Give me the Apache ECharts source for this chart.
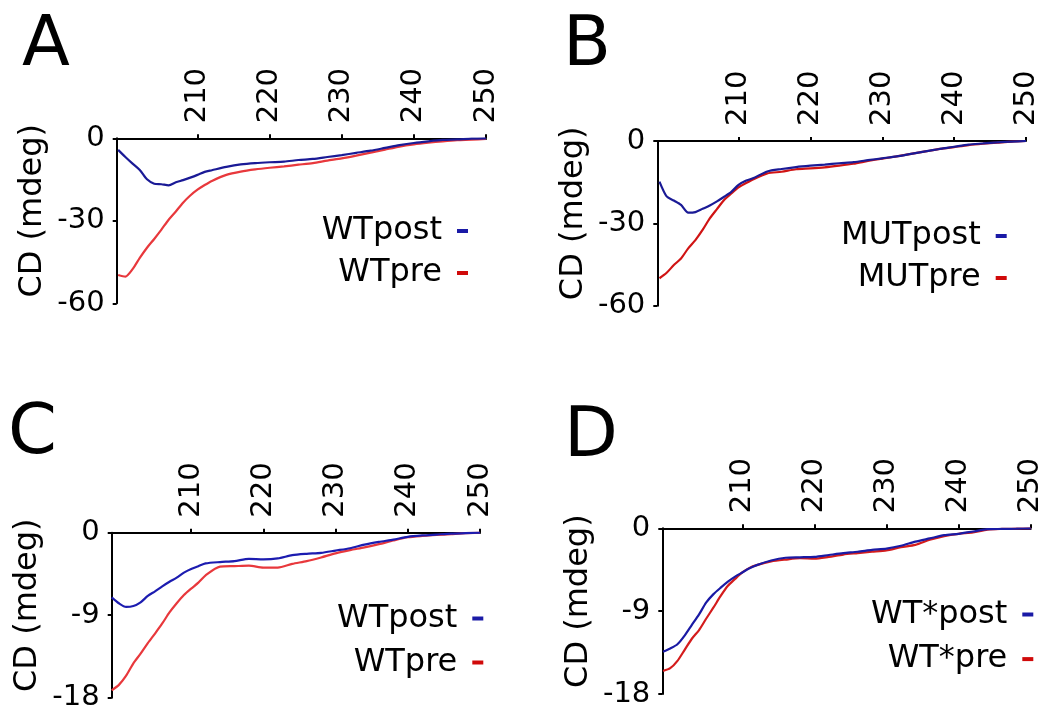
<!DOCTYPE html>
<html><head><meta charset="utf-8">
<script src="https://cdn.jsdelivr.net/npm/echarts@6/dist/echarts.min.js"></script>
<style>html,body{margin:0;padding:0;background:#fff}#c{width:1046px;height:715px}</style>
</head><body><div id="c"></div>
<script>
// Wavelength (nm)
const wavelengths = [199,200,201,202,203,204,205,206,207,208,209,210,211,212,214,216,218,220,222,224,226,228,230,232,234,236,238,240,242,244,246,248,250];
const xTickValues = [210,220,230,240,250];

// Panel A
const wtPostA = [-4.2,-6.8,-9.2,-11.5,-14.9,-16.5,-16.7,-17.1,-16.0,-15.2,-14.3,-13.3,-12.2,-11.6,-10.4,-9.5,-9.0,-8.7,-8.5,-7.9,-7.5,-6.8,-6.1,-5.3,-4.5,-3.5,-2.5,-1.7,-1.1,-0.6,-0.4,-0.1,0];
const wtPreA = [-49.7,-50.3,-47.6,-43.5,-39.8,-36.6,-33.2,-29.6,-26.6,-23.4,-20.8,-18.7,-17.0,-15.5,-13.3,-12.1,-11.3,-10.7,-10.2,-9.6,-9.0,-8.1,-7.3,-6.3,-5.2,-4.1,-3.0,-2.2,-1.6,-1.1,-0.7,-0.5,-0.2];
// Panel B
const mutPostB = [-14.8,-20.2,-21.7,-23.3,-26.1,-25.9,-24.7,-23.5,-22.0,-20.3,-18.5,-16.0,-14.5,-13.6,-11.1,-10.2,-9.5,-9.0,-8.6,-8.1,-7.7,-7.0,-6.3,-5.6,-4.7,-3.8,-2.9,-2.1,-1.3,-0.9,-0.5,-0.2,0];
const mutPreB = [-50.0,-48.0,-45.2,-42.8,-39.1,-36.1,-32.4,-28.2,-24.8,-21.5,-19.1,-16.9,-15.4,-14.0,-11.8,-11.2,-10.3,-10.0,-9.6,-9.0,-8.3,-7.3,-6.4,-5.6,-4.7,-3.8,-2.9,-2.2,-1.5,-1.0,-0.6,-0.2,0];
// Panel C
const wtPostC = [-7.05,-7.7,-8.1,-8.0,-7.6,-6.9,-6.4,-5.85,-5.35,-4.9,-4.35,-3.95,-3.65,-3.35,-3.2,-3.1,-2.85,-2.9,-2.8,-2.45,-2.3,-2.2,-1.95,-1.7,-1.3,-1.0,-0.75,-0.45,-0.3,-0.2,-0.1,-0.05,0];
const wtPreC = [-17.2,-16.6,-15.6,-14.25,-13.2,-12.05,-11.0,-9.9,-8.7,-7.7,-6.8,-6.1,-5.45,-4.65,-3.7,-3.65,-3.6,-3.8,-3.8,-3.4,-3.1,-2.7,-2.25,-1.9,-1.6,-1.25,-0.85,-0.5,-0.35,-0.25,-0.15,-0.05,0];
// Panel D
const wtsPostD = [-13.4,-13.05,-12.6,-11.65,-10.5,-9.35,-8.05,-7.15,-6.45,-5.8,-5.25,-4.8,-4.35,-4.0,-3.5,-3.2,-3.15,-3.1,-2.9,-2.7,-2.55,-2.35,-2.2,-1.9,-1.45,-1.1,-0.75,-0.6,-0.35,-0.1,-0.07,-0.04,0];
const wtsPreD = [-15.5,-15.2,-14.4,-13.2,-12.0,-11.05,-9.8,-8.6,-7.35,-6.25,-5.5,-4.8,-4.3,-4.0,-3.6,-3.4,-3.25,-3.3,-3.1,-2.85,-2.7,-2.55,-2.4,-2.05,-1.8,-1.25,-0.85,-0.6,-0.45,-0.15,-0.07,-0.04,0];

const panelLetters = ['A','B','C','D'];
const postNames = ['WTpost','MUTpost','WTpost','WT*post'];
const preNames = ['WTpre','MUTpre','WTpre','WT*pre'];
const postData = [wtPostA, mutPostB, wtPostC, wtsPostD];
const preData = [wtPreA, mutPreB, wtPreC, wtsPreD];
const yMins = [-60,-60,-18,-18];
const yIntervals = [30,30,9,9];

const FONT = 'DejaVu Sans';
const grids = [
  {left:116.7, top:138.3, width:369.3, height:165},
  {left:657.3, top:141, width:368.7, height:164.7},
  {left:111.7, top:532.7, width:368.3, height:165},
  {left:662.3, top:528.3, width:368.4, height:165.7}
];
const xMins = [198.8,198.7,199.0,198.9];
const legendPos = [
  {right:578, top:215, itemGap:10},
  {right:39.3, top:220, itemGap:10},
  {right:562.7, top:602.5, itemGap:12},
  {right:12.7, top:598.5, itemGap:12.6}
];
const titlePos = [
  {left:22, top:12},
  {left:563, top:12},
  {left:8, top:400},
  {left:564, top:403}
];
const blueCols = ['#1a1a96','#1a1a96','#1c1cb0','#1a1aa4'];
const redCols = ['#e8383c','#d01414','#e8383c','#d41c1c'];
const blueIcon = '#1a1aa6';
const redIcon = '#d00a0a';

const option = {
  animation:false,
  backgroundColor:'#fff',
  title: panelLetters.map((t,i)=>({text:t, left:titlePos[i].left, top:titlePos[i].top, padding:0,
    textStyle:{fontFamily:FONT, fontSize:70, fontWeight:'normal', color:'#000'}})),
  grid: grids.map(g=>Object.assign({containLabel:false}, g)),
  legend: legendPos.map((p,i)=>({
    orient:'vertical', align:'right', right:p.right, top:p.top, itemGap:p.itemGap, padding:0,
    icon:'rect', itemWidth:11, itemHeight:4, selectedMode:false,
    textStyle:{fontFamily:FONT, fontSize:32, color:'#000', padding:[0,10,0,0]},
    data:[{name:postNames[i], itemStyle:{color:blueIcon}}, {name:preNames[i], itemStyle:{color:redIcon}}]
  })),
  xAxis: grids.map((g,i)=>({
    type:'value', gridIndex:i, position:'top', min:xMins[i], max:250,
    axisLine:{show:true, onZero:false, lineStyle:{color:'#000', width:2}},
    axisTick:{show:true, customValues:xTickValues, length:4, lineStyle:{color:'#000', width:2}},
    axisLabel:{customValues:xTickValues, rotate:-90, margin:15, fontFamily:FONT, fontSize:29, color:'#000'},
    splitLine:{show:false}
  })),
  yAxis: grids.map((g,i)=>({
    type:'value', gridIndex:i, min:yMins[i], max:0, interval:yIntervals[i],
    name:'CD (mdeg)', nameLocation:'middle', nameRotate:90, nameGap:68,
    nameTextStyle:{fontFamily:FONT, fontSize:32, color:'#000', padding:[0,0,0,20]},
    axisLine:{show:true, onZero:false, lineStyle:{color:'#000', width:2}},
    axisTick:{show:true, length:4, lineStyle:{color:'#000', width:2}},
    axisLabel:{margin:12, fontFamily:FONT, fontSize:29, color:'#000'},
    splitLine:{show:false}
  })),
  series: []
};
for (let i=0;i<4;i++){
  option.series.push({
    type:'line', name:preNames[i], xAxisIndex:i, yAxisIndex:i, showSymbol:false, smooth:0.25,
    color:redCols[i], lineStyle:{width:2.2, color:redCols[i]},
    data: wavelengths.map((w,k)=>[w, preData[i][k]])
  });
  option.series.push({
    type:'line', name:postNames[i], xAxisIndex:i, yAxisIndex:i, showSymbol:false, smooth:0.25,
    color:blueCols[i], lineStyle:{width:2.2, color:blueCols[i]},
    data: wavelengths.map((w,k)=>[w, postData[i][k]])
  });
}
const chart = echarts.init(document.getElementById('c'), null, {renderer:'canvas'});
chart.setOption(option);
</script></body></html>
